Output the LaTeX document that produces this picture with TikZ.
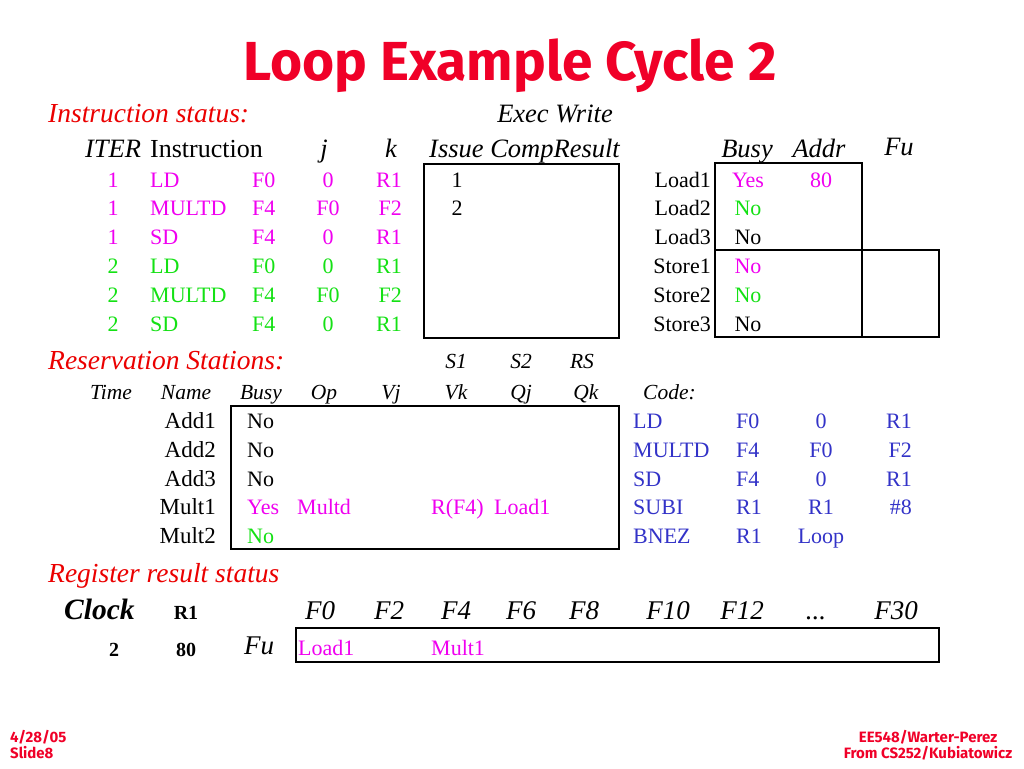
\documentclass[tikz,border=0pt]{standalone}
\usepackage{fontspec}
\setmainfont{Liberation Serif}
\newfontfamily\titlefont{Fira Sans}
\definecolor{titred}{RGB}{240,0,40}
\definecolor{lblred}{RGB}{235,0,0}
\definecolor{mag}{RGB}{240,0,240}
\definecolor{grn}{RGB}{20,225,20}
\definecolor{codeblue}{RGB}{51,51,200}
\tikzset{
  txt/.style={inner sep=0pt, font=\fontsize{22}{26}\selectfont},
  hdr/.style={inner sep=0pt, font=\fontsize{26.5}{30}\selectfont\itshape},
  sec/.style={inner sep=0pt, font=\fontsize{27.5}{30}\selectfont\itshape, text=lblred, anchor=base west},
  rsh/.style={inner sep=0pt, font=\fontsize{21.5}{25}\selectfont\itshape, anchor=base},
  reg/.style={inner sep=0pt, font=\fontsize{27}{30}\selectfont\itshape, anchor=base},
  bld/.style={inner sep=0pt, font=\fontsize{20}{24}\selectfont\bfseries, anchor=base},
  L/.style={txt, anchor=base west},
  C/.style={txt, anchor=base},
  R/.style={txt, anchor=base east},
  foot/.style={inner sep=0pt, font=\titlefont\bfseries\fontsize{15}{16}\selectfont, text=titred, align=center},
  tbl/.style={line width=1.4pt}
}
\begin{document}
\begin{tikzpicture}[x=1pt,y=-1pt]
\useasboundingbox[fill=white] (0,0) rectangle (1024,768);
% title
\node[inner sep=0pt, anchor=base, text=titred, font=\titlefont\bfseries\fontsize{55}{60}\selectfont] (title) at (510,80) {Loop Example Cycle 2};
% Instruction status
\node[sec] (instst) at (48,122) {Instruction status:};
\node[hdr, anchor=base] (execw) at (555,122) {Exec Write};
\node[hdr, anchor=base] (hiter) at (113,157) {ITER};
\node[txt, anchor=base west, font=\fontsize{26}{30}\selectfont] (hinstr) at (150,157) {Instruction};
\node[hdr, anchor=base] (hj) at (324,157) {j};
\node[hdr, anchor=base] (hk) at (391,157) {k};
\node[hdr, anchor=base west] (hissue) at (429,157) {Issue CompResult};
% rows
\foreach \n/\it/\op/\d/\j/\k/\yy/\col in {
  a/1/LD/F0/0/R1/187/mag,
  b/1/MULTD/F4/F0/F2/215/mag,
  c/1/SD/F4/0/R1/244/mag,
  d/2/LD/F0/0/R1/273/grn,
  e/2/MULTD/F4/F0/F2/302/grn,
  f/2/SD/F4/0/R1/331/grn}{
  \node[C, text=\col] (it\n) at (113,\yy) {\it};
  \node[L, text=\col] (op\n) at (150,\yy) {\op};
  \node[L, text=\col] (d\n) at (252,\yy) {\d};
  \node[C, text=\col] (j\n) at (328,\yy) {\j};
  \node[R, text=\col] (k\n) at (402,\yy) {\k};
}
\node[C] (iss1) at (457,187) {1};
\node[C] (iss2) at (457,215) {2};
\draw[tbl] (424,164) rectangle (619,338);
% load/store buffers
\node[hdr, anchor=base] (hbusy) at (747,157) {Busy};
\node[hdr, anchor=base] (haddr) at (819,157) {Addr};
\node[hdr, anchor=base] (hfu) at (899,155) {Fu};
\foreach \n/\nm/\bz/\col/\yy in {
  la/Load1/Yes/mag/187,
  lb/Load2/No/grn/215,
  lc/Load3/No/black/244,
  sa/Store1/No/mag/273,
  sb/Store2/No/grn/302,
  sc/Store3/No/black/331}{
  \node[R] (nm\n) at (711,\yy) {\nm};
  \node[C, text=\col] (bz\n) at (748,\yy) {\bz};
}
\node[C, text=mag] (addr1) at (821,187) {80};
\draw[tbl] (715,163) rectangle (862,337);
\draw[tbl] (715,250) -- (939,250);
\draw[tbl] (862,250) rectangle (939,337);
% Reservation stations
\node[sec] (resst) at (48,369) {Reservation Stations:};
\node[rsh] (hs1) at (456,368) {S1};
\node[rsh] (hs2) at (521,368) {S2};
\node[rsh] (hrs) at (582,368) {RS};
\foreach \n/\lab/\xx in {ti/Time/111, na/Name/186, bu/Busy/261, op/Op/324, vj/Vj/391, vk/Vk/456, qj/Qj/521, qk/Qk/586}{
  \node[rsh] (rh\n) at (\xx,399) {\lab};
}
\node[rsh, anchor=base west] (hcode) at (643,399) {Code:};
\foreach \n/\nm/\bz/\col/\yy in {
  a1/Add1/No/black/428,
  a2/Add2/No/black/457,
  a3/Add3/No/black/486,
  m1/Mult1/Yes/mag/514,
  m2/Mult2/No/grn/543}{
  \node[R, font=\fontsize{23}{26}\selectfont] (rs\n) at (216,\yy) {\nm};
  \node[L, text=\col] (rb\n) at (247,\yy) {\bz};
}
\node[L, text=mag] (rsop) at (297,514) {Multd};
\node[L, text=mag] (rsvk) at (431,514) {R(F4)};
\node[L, text=mag] (rsqj) at (494,514) {Load1};
\draw[tbl] (231,406) rectangle (619,549);
% code
\foreach \n/\a/\b/\c/\d/\yy in {
  c1/LD/F0/0/R1/428,
  c2/MULTD/F4/F0/F2/457,
  c3/SD/F4/0/R1/486,
  c4/SUBI/R1/R1/\#8/514,
  c5/BNEZ/R1/Loop//543}{
  \node[L, text=codeblue] (\n a) at (633,\yy) {\a};
  \node[L, text=codeblue] (\n b) at (736,\yy) {\b};
  \node[C, text=codeblue] (\n c) at (821,\yy) {\c};
  \node[R, text=codeblue] (\n d) at (912,\yy) {\d};
}
% Register result status
\node[sec] (regst) at (48,582) {Register result status};
\node[inner sep=0pt, anchor=base west, font=\fontsize{29.5}{32}\selectfont\bfseries\itshape] (clock) at (64,619) {Clock};
\node[bld] (r1) at (186,619) {R1};
\foreach \n/\lab/\xx in {f0/F0/320, f2/F2/389, f4/F4/456, f6/F6/521, f8/F8/584, f10/F10/668, f12/F12/742, f30/F30/896}{
  \node[reg] (reg\n) at (\xx,619) {\lab};
}
\node[reg] (regdots) at (816,619) {...};
\node[bld] (clk) at (114,656) {2};
\node[bld] (r1v) at (186,656) {80};
\node[reg] (regfu) at (259,654) {Fu};
\draw[tbl] (296,628) rectangle (939,662);
\node[L, text=mag] (fuload) at (298,655) {Load1};
\node[L, text=mag] (fumult) at (431,655) {Mult1};
% footer
\node[foot, anchor=north west, align=left] (fleft) at (10,730) {4/28/05\\Slide8};
\node[foot, anchor=north] (fright) at (928,730) {EE548/Warter-Perez\\From CS252/Kubiatowicz};
\end{tikzpicture}
\end{document}
